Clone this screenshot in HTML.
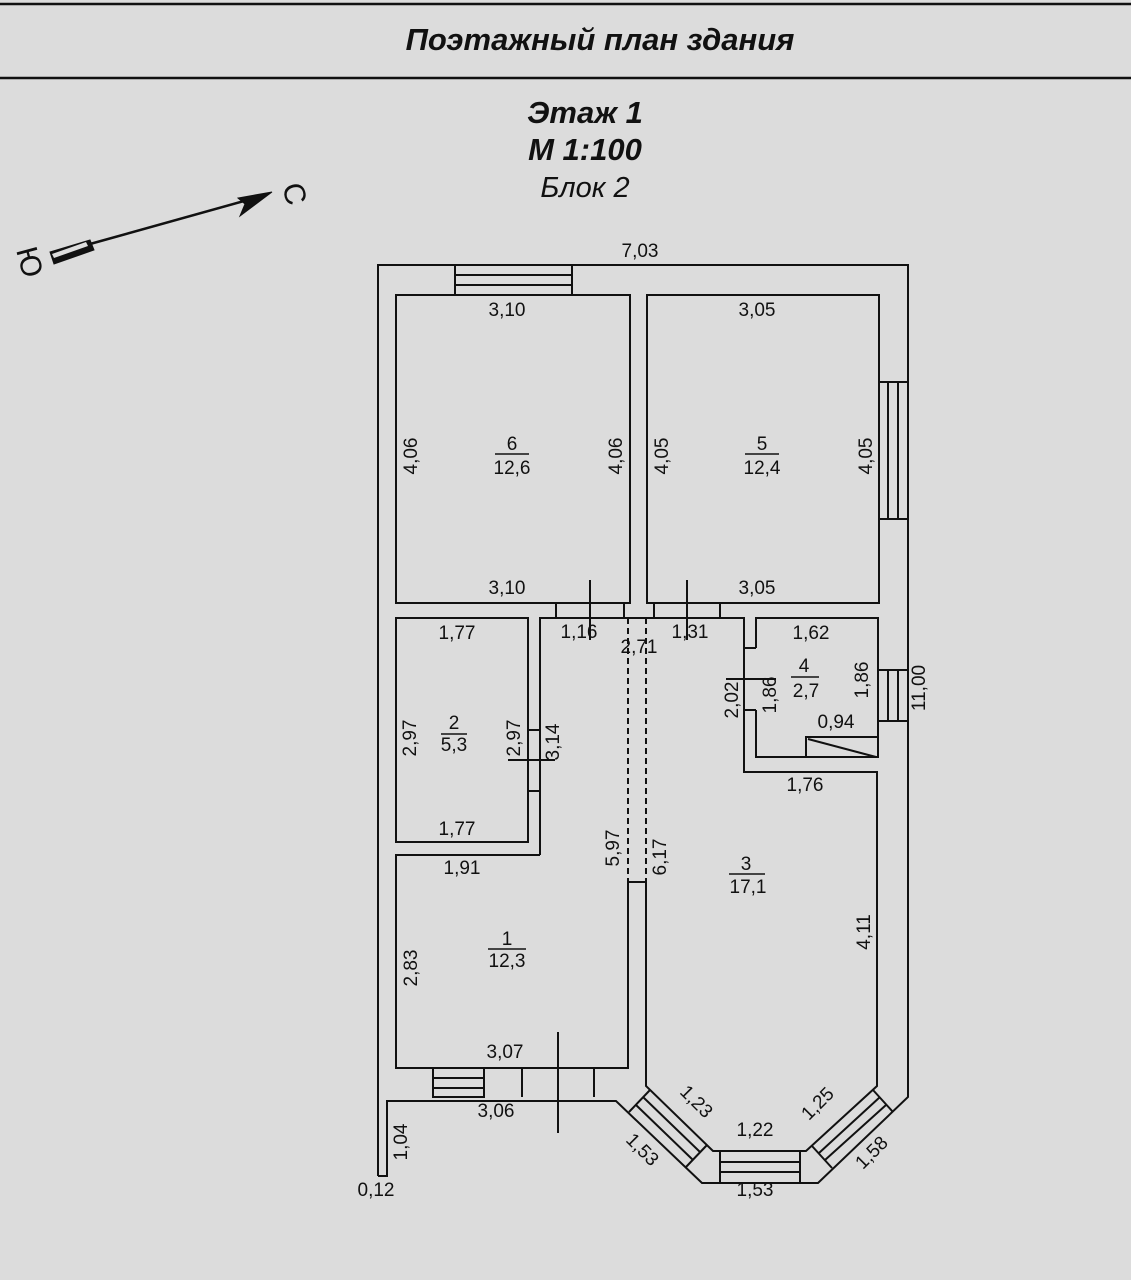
<!DOCTYPE html>
<html><head><meta charset="utf-8"><style>
html,body{margin:0;padding:0;background:#dcdcdc;}
svg{display:block}
text{font-family:"Liberation Sans",sans-serif;fill:#111}
.d{font-size:19px}
</style></head><body>
<svg width="1131" height="1280" viewBox="0 0 1131 1280" xmlns="http://www.w3.org/2000/svg">
<rect width="1131" height="1280" fill="#dcdcdc"/>
<line x1="0" y1="4" x2="1131" y2="4" stroke="#111" stroke-width="2.5"/>
<line x1="0" y1="78" x2="1131" y2="78" stroke="#111" stroke-width="2.5"/>
<text x="600" y="50" text-anchor="middle" font-size="31" font-weight="bold" font-style="italic">Поэтажный план здания</text>
<text x="585" y="123" text-anchor="middle" font-size="31" font-weight="bold" font-style="italic">Этаж 1</text>
<text x="585" y="160" text-anchor="middle" font-size="31" font-weight="bold" font-style="italic">М 1:100</text>
<text x="585" y="197" text-anchor="middle" font-size="29" font-style="italic">Блок 2</text>

<g stroke="#111" fill="#111">
<line x1="90" y1="244" x2="262" y2="196" stroke-width="2.5"/>
<polygon points="272,192 238,198 245,204 240,216"/>
<polygon points="50,252 90,240 94,250 54,264" fill="#111"/>
<polygon points="52,254 86,242 88,246 54,258" fill="#ddd" stroke="none"/>
</g>
<text x="0" y="0" font-size="30" transform="translate(282,186) rotate(75)">С</text>
<text x="0" y="0" font-size="30" transform="translate(16,250) rotate(75)">Ю</text>

<g stroke="#111" stroke-width="2" fill="none">
<polyline points="378,1176 378,265 908,265 908,1097 818,1183 702,1183 616,1101 387,1101 387,1176 378,1176"/>
<rect x="396" y="295" width="234" height="308"/>
<rect x="647" y="295" width="232" height="308"/>
<rect x="455" y="265" width="117" height="30"/>
<line x1="455" y1="275" x2="572" y2="275"/><line x1="455" y1="285" x2="572" y2="285"/>
<rect x="879" y="382" width="29" height="137"/>
<line x1="888" y1="382" x2="888" y2="519"/><line x1="898" y1="382" x2="898" y2="519"/>
<line x1="556" y1="603" x2="556" y2="618"/><line x1="624" y1="603" x2="624" y2="618"/>
<line x1="654" y1="603" x2="654" y2="618"/><line x1="720" y1="603" x2="720" y2="618"/>
<line x1="590" y1="580" x2="590" y2="640"/><line x1="687" y1="580" x2="687" y2="640"/>
<rect x="396" y="618" width="132" height="224"/>
<line x1="528" y1="730" x2="540" y2="730"/><line x1="528" y1="791" x2="540" y2="791"/>
<line x1="508" y1="760" x2="555" y2="760"/>
<polyline points="540,855 540,618 744,618 744,772 877,772 877,1086 806,1151 713,1151 646,1086 646,882 628,882 628,1068 396,1068 396,855 540,855"/>
<line x1="744" y1="648" x2="756" y2="648"/><line x1="744" y1="710" x2="756" y2="710"/>
<line x1="726" y1="679" x2="776" y2="679"/>
<polyline points="756,648 756,618 878,618 878,757 756,757 756,710"/>
<rect x="878" y="670" width="30" height="51"/>
<line x1="888" y1="670" x2="888" y2="721"/><line x1="898" y1="670" x2="898" y2="721"/>
<rect x="806" y="737" width="72" height="20"/>
<line x1="808" y1="739" x2="876" y2="757"/>
<rect x="433" y="1068" width="51" height="29"/>
<line x1="433" y1="1078" x2="484" y2="1078"/><line x1="433" y1="1088" x2="484" y2="1088"/>
<line x1="522" y1="1068" x2="522" y2="1097"/><line x1="594" y1="1068" x2="594" y2="1097"/>
<line x1="558" y1="1032" x2="558" y2="1133"/>
<line x1="650" y1="1090" x2="629" y2="1112"/><line x1="707" y1="1145" x2="686" y2="1167"/>
<line x1="643" y1="1097" x2="700" y2="1152"/><line x1="636" y1="1105" x2="693" y2="1160"/>
<line x1="720" y1="1151" x2="720" y2="1183"/><line x1="800" y1="1151" x2="800" y2="1183"/>
<line x1="720" y1="1162" x2="800" y2="1162"/><line x1="720" y1="1172" x2="800" y2="1172"/>
<line x1="873" y1="1090" x2="893" y2="1112"/><line x1="812" y1="1146" x2="832" y2="1168"/>
<line x1="880" y1="1097" x2="819" y2="1153"/><line x1="886" y1="1105" x2="825" y2="1160"/>
</g>
<g stroke="#111" stroke-width="2" stroke-dasharray="6,4">
<line x1="628" y1="618" x2="628" y2="882"/><line x1="646" y1="618" x2="646" y2="882"/>
</g>

<g class="d" text-anchor="middle">
<text x="640" y="257">7,03</text>
<text x="507" y="316">3,10</text><text x="757" y="316">3,05</text>
<text x="507" y="594">3,10</text><text x="757" y="594">3,05</text>
<text x="512" y="450">6</text><line x1="495" y1="454" x2="529" y2="454" stroke="#111" stroke-width="1.5"/><text x="512" y="474">12,6</text>
<text x="762" y="450">5</text><line x1="745" y1="454" x2="779" y2="454" stroke="#111" stroke-width="1.5"/><text x="762" y="474">12,4</text>
<text transform="translate(417,456) rotate(-90)">4,06</text>
<text transform="translate(622,456) rotate(-90)">4,06</text>
<text transform="translate(668,456) rotate(-90)">4,05</text>
<text transform="translate(872,456) rotate(-90)">4,05</text>
<text x="579" y="638">1,16</text><text x="639" y="653">2,71</text><text x="690" y="638">1,31</text>
<text x="457" y="639">1,77</text><text x="457" y="835">1,77</text>
<text x="454" y="729">2</text><line x1="441" y1="734" x2="467" y2="734" stroke="#111" stroke-width="1.5"/><text x="454" y="751">5,3</text>
<text transform="translate(416,738) rotate(-90)">2,97</text>
<text transform="translate(520,738) rotate(-90)">2,97</text>
<text transform="translate(559,742) rotate(-90)">3,14</text>
<text x="811" y="639">1,62</text>
<text x="804" y="672">4</text><line x1="791" y1="677" x2="819" y2="677" stroke="#111" stroke-width="1.5"/><text x="806" y="697">2,7</text>
<text transform="translate(738,700) rotate(-90)">2,02</text>
<text transform="translate(776,695) rotate(-90)">1,86</text>
<text transform="translate(868,680) rotate(-90)">1,86</text>
<text x="836" y="728">0,94</text>
<text transform="translate(925,688) rotate(-90)">11,00</text>
<text x="805" y="791">1,76</text>
<text transform="translate(619,848) rotate(-90)">5,97</text>
<text transform="translate(666,857) rotate(-90)">6,17</text>
<text x="746" y="870">3</text><line x1="729" y1="874" x2="765" y2="874" stroke="#111" stroke-width="1.5"/><text x="748" y="893">17,1</text>
<text transform="translate(870,932) rotate(-90)">4,11</text>
<text x="462" y="874">1,91</text>
<text x="507" y="945">1</text><line x1="488" y1="949" x2="526" y2="949" stroke="#111" stroke-width="1.5"/><text x="507" y="967">12,3</text>
<text transform="translate(417,968) rotate(-90)">2,83</text>
<text x="505" y="1058">3,07</text>
<text x="496" y="1117">3,06</text>
<text transform="translate(407,1142) rotate(-90)">1,04</text>
<text x="376" y="1196">0,12</text>
<text transform="translate(692,1106) rotate(45)">1,23</text>
<text transform="translate(638,1154) rotate(45)">1,53</text>
<text x="755" y="1136">1,22</text>
<text x="755" y="1196">1,53</text>
<text transform="translate(822,1108) rotate(-45)">1,25</text>
<text transform="translate(876,1157) rotate(-45)">1,58</text>
</g>
</svg>
</body></html>
